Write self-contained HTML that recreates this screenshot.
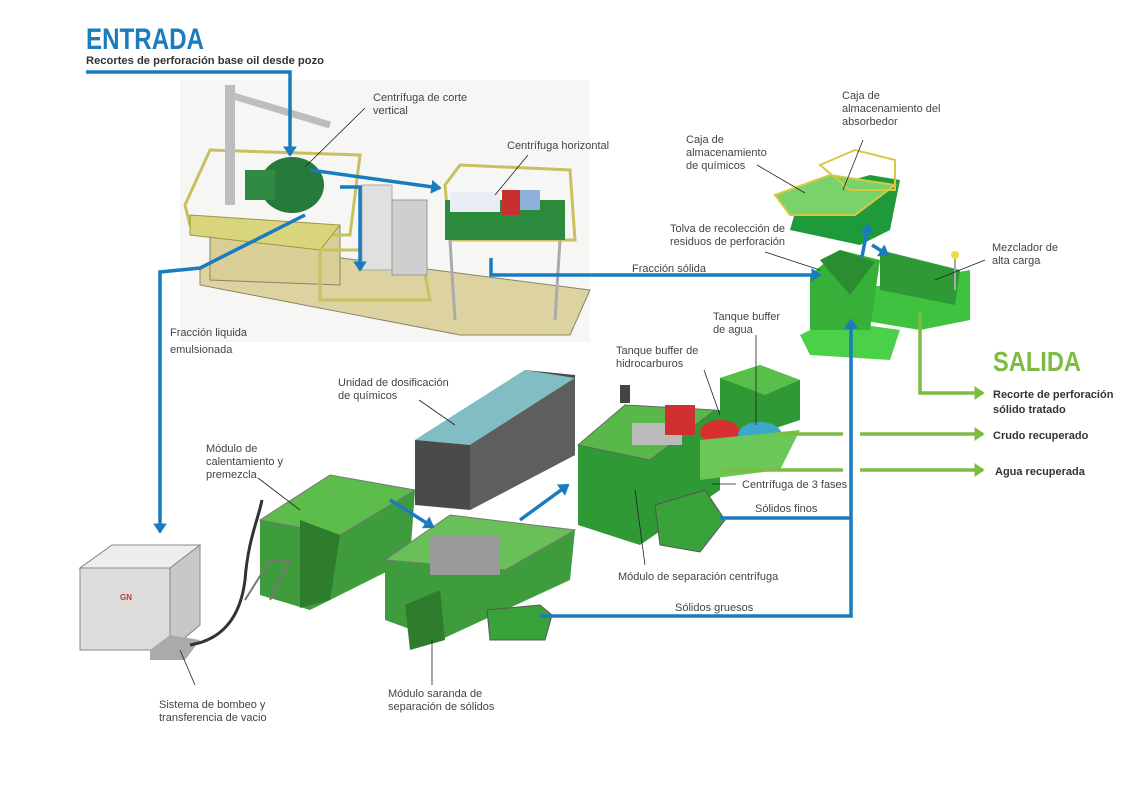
<!DOCTYPE html>
<html><head><meta charset="utf-8"><style>
html,body{margin:0;padding:0;background:#fff;}
svg{display:block;}
text{font-family:"Liberation Sans",sans-serif;}
.l{font-size:11px;fill:#444;}
.b{font-size:11px;fill:#333;font-weight:bold;}
</style></head><body>
<svg width="1130" height="798" viewBox="0 0 1130 798" xmlns="http://www.w3.org/2000/svg">
<defs>
<marker id="ab" markerWidth="4" markerHeight="4" refX="2.5" refY="2" orient="auto" markerUnits="strokeWidth"><path d="M0,0 L3,2 L0,4 Z" fill="#1a7bbf"/></marker>
<marker id="ag" markerWidth="4" markerHeight="4" refX="2.5" refY="2" orient="auto" markerUnits="strokeWidth"><path d="M0,0 L3,2 L0,4 Z" fill="#7dbb42"/></marker>
</defs>

<rect x="180" y="80" width="410" height="262" fill="#f6f6f4"/>
<polygon points="200,270 240,245 590,290 570,335 460,335 200,285" fill="#dcd3a0" stroke="#8a8462"/>
<polygon points="210,230 340,225 340,285 210,280" fill="#d9cf96" stroke="#8a8462"/>
<polygon points="185,205 210,150 360,155 350,235 300,235 190,225" fill="none" stroke="#c9c060" stroke-width="3"/>
<polygon points="190,215 340,225 320,250 190,235" fill="#d8d57c" stroke="#9a9640"/>
<rect x="225" y="85" width="10" height="120" fill="#bdbdbd"/>
<line x1="230" y1="95" x2="330" y2="125" stroke="#bdbdbd" stroke-width="7"/>
<ellipse cx="292" cy="185" rx="32" ry="28" fill="#267a3a"/>
<rect x="245" y="170" width="30" height="30" fill="#2f8a44"/>
<polygon points="320,250 420,250 430,300 320,300" fill="none" stroke="#c9c060" stroke-width="3"/>
<rect x="362" y="185" width="30" height="85" fill="#e0e0de" stroke="#aaa"/>
<rect x="392" y="200" width="35" height="75" fill="#cfcfcf" stroke="#999"/>
<polygon points="445,185 460,165 570,170 575,240 450,240" fill="none" stroke="#c9c060" stroke-width="3"/>
<rect x="445" y="200" width="120" height="40" fill="#2c8a3c"/>
<rect x="450" y="192" width="50" height="20" fill="#e8eef4"/>
<rect x="502" y="190" width="18" height="25" fill="#c83030"/>
<rect x="520" y="190" width="20" height="20" fill="#8fb0d8"/>
<line x1="450" y1="240" x2="455" y2="320" stroke="#aaa" stroke-width="3"/>
<line x1="560" y1="240" x2="555" y2="320" stroke="#aaa" stroke-width="3"/>

<polygon points="800,335 830,320 900,330 890,360 810,355" fill="#4bd04a"/>
<polygon points="855,290 970,270 970,320 920,330 860,320" fill="#3fc23f"/>
<polygon points="880,250 960,270 955,305 880,290" fill="#2f9a35"/>
<polygon points="810,275 840,250 880,260 870,330 810,330" fill="#37b03a"/>
<polygon points="820,260 840,250 875,262 850,295" fill="#2a8e30"/>
<polygon points="790,230 800,195 870,175 900,180 890,230 860,245" fill="#1f9a3a"/>
<polygon points="775,195 830,175 895,185 855,215 790,215" fill="#7ad36a" stroke="#d8c840" stroke-width="2"/>
<polygon points="820,165 855,150 895,160 895,190 850,190" fill="none" stroke="#d8c840" stroke-width="2"/>
<line x1="955" y1="255" x2="955" y2="290" stroke="#aaa" stroke-width="2"/><circle cx="955" cy="255" r="4" fill="#e8e040"/>

<polygon points="80,568 112,545 200,545 200,625 170,650 80,650" fill="#dcdcdc" stroke="#888"/>
<polygon points="80,568 112,545 200,545 170,568" fill="#eeeeee" stroke="#888"/>
<polygon points="170,568 200,545 200,625 170,650" fill="#c8c8c8" stroke="#888"/>
<text x="120" y="600" font-size="8" fill="#d03030" font-weight="bold">GN</text>
<polygon points="150,650 170,635 200,640 185,660 150,660" fill="#aaa"/>
<path d="M190,645 C220,640 240,620 245,580 C248,540 258,520 262,500" stroke="#333" stroke-width="3" fill="none"/>

<polygon points="260,520 330,475 415,490 410,560 310,610 260,595" fill="#3e9c3c"/>
<polygon points="260,520 330,475 415,490 340,535" fill="#5cbc4c" stroke="#777" stroke-width="1"/>
<polygon points="300,520 340,535 330,600 300,608" fill="#2d7d2d"/>
<polyline points="245,600 270,560 290,560 270,600" fill="none" stroke="#777" stroke-width="2"/>
<polygon points="415,440 525,370 575,375 575,455 470,510 415,505" fill="#4a4a4a"/>
<polygon points="415,440 525,370 575,378 470,445" fill="#8ad2d8" opacity="0.85"/>
<polygon points="470,445 575,378 575,455 470,510" fill="#5e5e5e"/>
<polygon points="385,560 450,515 575,530 570,580 440,640 385,620" fill="#3e9c3c"/>
<polygon points="385,560 450,515 575,530 505,570" fill="#6ac058" stroke="#777"/>
<rect x="430" y="535" width="70" height="40" fill="#9a9a9a"/>
<polygon points="405,605 440,590 445,640 410,650" fill="#2d7d2d"/>
<polygon points="487,610 540,605 552,615 545,640 490,640" fill="#3aa23a" stroke="#555"/>
<polygon points="578,445 625,405 720,410 720,490 640,545 578,525" fill="#2f9a35"/>
<polygon points="578,445 625,405 715,410 650,460" fill="#58b84a" stroke="#666"/>
<rect x="632" y="423" width="50" height="22" fill="#bbb"/>
<rect x="665" y="405" width="30" height="30" fill="#d03030"/>
<polygon points="720,378 760,365 800,380 800,420 740,440 720,420" fill="#2f9a35"/>
<polygon points="720,378 760,365 800,380 765,395" fill="#58c04a"/>
<ellipse cx="720" cy="432" rx="20" ry="12" fill="#d83030"/>
<ellipse cx="760" cy="435" rx="22" ry="13" fill="#3aa8c8"/>
<polygon points="700,440 800,430 780,470 700,480" fill="#6ac858"/>
<polygon points="655,505 705,490 725,520 700,552 660,545" fill="#3aa23a" stroke="#555"/>
<rect x="620" y="385" width="10" height="18" fill="#444"/>

<g stroke="#1a7bbf" stroke-width="3.5" fill="none">
<polyline points="86,72 290,72 290,155" marker-end="url(#ab)"/>
<polyline points="310,170 440,188" marker-end="url(#ab)"/>
<polyline points="340,187 360,187 360,270" marker-end="url(#ab)"/>
<polyline points="305,215 200,268 160,272 160,532" marker-end="url(#ab)"/>
<polyline points="491,258 491,275 820,275" marker-end="url(#ab)"/>
<polyline points="540,616 851,616 851,320" marker-end="url(#ab)"/>
<polyline points="720,518 851,518"/>
<polyline points="390,500 433,527" marker-end="url(#ab)"/>
<polyline points="520,520 568,485" marker-end="url(#ab)"/>
<polyline points="862,257 868,225" marker-end="url(#ab)"/>
<polyline points="872,245 888,255" marker-end="url(#ab)"/>
</g>
<g stroke="#7dbb42" stroke-width="3.5" fill="none">
<polyline points="920,312 920,393 983,393" marker-end="url(#ag)"/>
<polyline points="780,434 843,434"/>
<polyline points="860,434 983,434" marker-end="url(#ag)"/>
<polyline points="723,470 843,470"/>
<polyline points="860,470 983,470" marker-end="url(#ag)"/>
</g>

<g stroke="#222" stroke-width="0.8">
<line x1="365" y1="108" x2="305" y2="167"/>
<line x1="528" y1="155" x2="495" y2="195"/>
<line x1="757" y1="165" x2="805" y2="193"/>
<line x1="863" y1="140" x2="843" y2="190"/>
<line x1="765" y1="252" x2="820" y2="270"/>
<line x1="985" y1="260" x2="935" y2="280"/>
<line x1="704" y1="370" x2="720" y2="415"/>
<line x1="756" y1="335" x2="756" y2="425"/>
<line x1="736" y1="484" x2="712" y2="484"/>
<line x1="645" y1="565" x2="635" y2="490"/>
<line x1="419" y1="400" x2="455" y2="425"/>
<line x1="258" y1="478" x2="300" y2="510"/>
<line x1="195" y1="685" x2="180" y2="650"/>
<line x1="432" y1="685" x2="432" y2="640"/>
</g>

<text x="86" y="49" font-size="30" font-weight="bold" fill="#1a7bbf" textLength="118" lengthAdjust="spacingAndGlyphs">ENTRADA</text>
<text x="86" y="64" class="b" textLength="238" lengthAdjust="spacingAndGlyphs">Recortes de perforación base oil desde pozo</text>
<text x="993" y="371" font-size="28" font-weight="bold" fill="#7dbb42" textLength="88" lengthAdjust="spacingAndGlyphs">SALIDA</text>
<text x="993" y="398" class="b">Recorte de perforación</text>
<text x="993" y="413" class="b">sólido tratado</text>
<text x="993" y="439" class="b">Crudo recuperado</text>
<text x="995" y="475" class="b">Agua recuperada</text>

<text class="l" x="373" y="101">Centrífuga de corte</text>
<text class="l" x="373" y="114">vertical</text>
<text class="l" x="507" y="149">Centrífuga horizontal</text>
<text class="l" x="686" y="143">Caja de</text>
<text class="l" x="686" y="156">almacenamiento</text>
<text class="l" x="686" y="169">de químicos</text>
<text class="l" x="842" y="99">Caja de</text>
<text class="l" x="842" y="112">almacenamiento del</text>
<text class="l" x="842" y="125">absorbedor</text>
<text class="l" x="670" y="232">Tolva de recolección de</text>
<text class="l" x="670" y="245">residuos de perforación</text>
<text class="l" x="632" y="272">Fracción sólida</text>
<text class="l" x="992" y="251">Mezclador de</text>
<text class="l" x="992" y="264">alta carga</text>
<text class="l" x="170" y="336">Fracción liquida</text>
<text class="l" x="170" y="353">emulsionada</text>
<text class="l" x="713" y="320">Tanque buffer</text>
<text class="l" x="713" y="333">de agua</text>
<text class="l" x="616" y="354">Tanque buffer de</text>
<text class="l" x="616" y="367">hidrocarburos</text>
<text class="l" x="338" y="386">Unidad de dosificación</text>
<text class="l" x="338" y="399">de químicos</text>
<text class="l" x="206" y="452">Módulo de</text>
<text class="l" x="206" y="465">calentamiento y</text>
<text class="l" x="206" y="478">premezcla</text>
<text class="l" x="742" y="488">Centrífuga de 3 fases</text>
<text class="l" x="755" y="512">Sólidos finos</text>
<text class="l" x="618" y="580">Módulo de separación centrífuga</text>
<text class="l" x="675" y="611">Sólidos gruesos</text>
<text class="l" x="159" y="708">Sistema de bombeo y</text>
<text class="l" x="159" y="721">transferencia de vacio</text>
<text class="l" x="388" y="697">Módulo saranda de</text>
<text class="l" x="388" y="710">separación de sólidos</text>
</svg>
</body></html>
